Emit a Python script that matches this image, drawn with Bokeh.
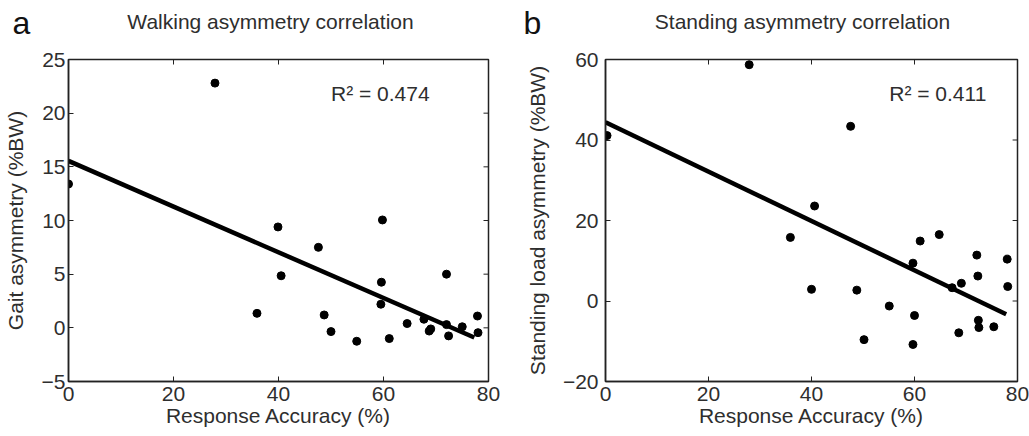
from bokeh.plotting import figure
from bokeh.layouts import row, column
from bokeh.models import FixedTicker, Range1d, Label
from bokeh.core.properties import value
from bokeh.embed import file_html
from bokeh.resources import INLINE

# ---- data: panel a (walking) ----
acc_a = [0.0, 27.9, 39.9, 40.5, 35.9, 47.6, 48.7, 50.0, 54.9, 59.8, 59.6, 59.5,
         61.1, 64.5, 67.7, 68.7, 69.0, 72.0, 72.4, 72.0, 75.0, 77.9, 78.0]
gait_asym = [13.4, 22.8, 9.4, 4.85, 1.35, 7.5, 1.2, -0.35, -1.25, 10.05, 4.25, 2.2,
             -1.0, 0.4, 0.8, -0.3, -0.1, 5.0, -0.75, 0.3, 0.1, 1.1, -0.45]
fit_a_x = [0.0, 77.3]
fit_a_y = [15.55, -0.9]
r2_a = "R\u00b2 = 0.474"

# ---- data: panel b (standing) ----
acc_b = [0.3, 27.9, 47.6, 40.6, 35.9, 40.0, 48.8, 50.2, 55.1, 59.7, 61.1, 60.0,
         59.7, 64.8, 67.3, 69.1, 68.6, 72.1, 72.3, 72.4, 72.5, 75.4, 78.0, 78.1]
stand_asym = [41.1, 58.7, 43.4, 23.6, 15.8, 2.9, 2.7, -9.6, -1.25, 9.4, 14.9, -3.6,
              -10.8, 16.5, 3.3, 4.4, -7.9, 11.4, 6.2, -4.8, -6.6, -6.4, 10.4, 3.6]
fit_b_x = [0.0, 77.8]
fit_b_y = [44.4, -3.3]
r2_b = "R\u00b2 = 0.411"

x_ticks = [0, 20, 40, 60, 80]
y_ticks_a = [-5, 0, 5, 10, 15, 20, 25]
y_ticks_b = [-20, 0, 20, 40, 60]

panel_letters = ["a", "b"]
panel_titles = ["Walking asymmetry correlation", "Standing asymmetry correlation"]
x_label = "Response Accuracy (%)"
y_labels = ["Gait asymmetry (%BW)", "Standing load asymmetry (%BW)"]

FONT = "Liberation Sans"
TXT = "#2e2e2e"
LINE = "#222222"
TOTAL_W = 1029
HEAD_H = 46
PLOT_H = 390
BORDER_TOP = 13
BORDER_BOTTOM = 55
TICK_PX = 5
FS = "21px"

# ---- header strip with panel letters and titles ----
head = figure(width=TOTAL_W, height=HEAD_H, output_backend="svg", toolbar_location=None,
              x_range=Range1d(0, TOTAL_W), y_range=Range1d(HEAD_H, 0),
              x_axis_type=None, y_axis_type=None,
              min_border_left=0, min_border_right=0, min_border_top=0, min_border_bottom=0)
head.title = None
head.outline_line_color = None
head.grid.visible = False
head.text(x=[12, 523], y=[22, 22], text=panel_letters, text_font=value(FONT),
          text_font_size="32px", text_color="#111111", text_align="left",
          text_baseline="middle")
head.text(x=[270, 802], y=[21, 21], text=panel_titles, text_font=value(FONT),
          text_font_size=FS, text_color=TXT, text_align="center",
          text_baseline="middle")


def make_panel(xs, ys, fx, fy, r2, r2_pos, yr, yticks, ylabel, width,
               bl, br, ylab_standoff, ytick_standoff):
    p = figure(width=width, height=PLOT_H, output_backend="svg", toolbar_location=None,
               x_range=Range1d(0, 80), y_range=Range1d(*yr),
               min_border_left=bl, min_border_right=br,
               min_border_top=BORDER_TOP, min_border_bottom=BORDER_BOTTOM,
               x_axis_label=x_label, y_axis_label=ylabel)
    p.title = None
    p.grid.visible = False
    p.outline_line_color = LINE
    p.outline_line_width = 1.5

    p.xaxis.ticker = FixedTicker(ticks=x_ticks)
    p.yaxis.ticker = FixedTicker(ticks=yticks)
    for ax in (p.xaxis[0], p.yaxis[0]):
        ax.major_tick_in = TICK_PX
        ax.major_tick_out = 0
        ax.minor_tick_line_color = None
        ax.major_tick_line_color = LINE
        ax.axis_line_color = LINE
        ax.axis_line_width = 1.5
        ax.major_label_text_font = FONT
        ax.major_label_text_font_size = FS
        ax.major_label_text_color = TXT
        ax.axis_label_text_font = FONT
        ax.axis_label_text_font_size = FS
        ax.axis_label_text_font_style = "normal"
        ax.axis_label_text_color = TXT
    p.xaxis.major_label_standoff = 5
    p.xaxis.axis_label_standoff = 0
    p.yaxis.major_label_standoff = ytick_standoff
    p.yaxis.axis_label_standoff = ylab_standoff

    # mirrored inward ticks on the top and right edges of the box
    frame_w = width - bl - br
    frame_h = PLOT_H - BORDER_TOP - BORDER_BOTTOM
    dy = TICK_PX * (yr[1] - yr[0]) / frame_h
    dx = TICK_PX * 80 / frame_w
    top_t = x_ticks[1:-1]
    p.segment(x0=top_t, y0=[yr[1]] * len(top_t), x1=top_t, y1=[yr[1] - dy] * len(top_t),
              line_color=LINE, line_width=1)
    right_t = yticks[1:-1]
    p.segment(x0=[80] * len(right_t), y0=right_t, x1=[80 - dx] * len(right_t), y1=right_t,
              line_color=LINE, line_width=1)

    p.line(fx, fy, line_width=4.5, line_color="black")
    p.scatter(xs, ys, size=8, fill_color="black", line_color="black")

    p.add_layout(Label(x=r2_pos[0], y=r2_pos[1], text=r2, text_font=FONT,
                       text_font_size=FS, text_color=TXT,
                       text_baseline="middle"))
    return p


p1 = make_panel(acc_a, gait_asym, fit_a_x, fit_a_y, r2_a, (50.0, 21.8), (-5, 25),
                y_ticks_a, y_labels[0], 522, 67, 34, 12, 3)
p2 = make_panel(acc_b, stand_asym, fit_b_x, fit_b_y, r2_b, (55.1, 51.6), (-20, 60),
                y_ticks_b, y_labels[1], 507, 75, 12, 11, 7)

layout = column(head, row(p1, p2))
open("out.html", "w").write(file_html(layout, INLINE))
